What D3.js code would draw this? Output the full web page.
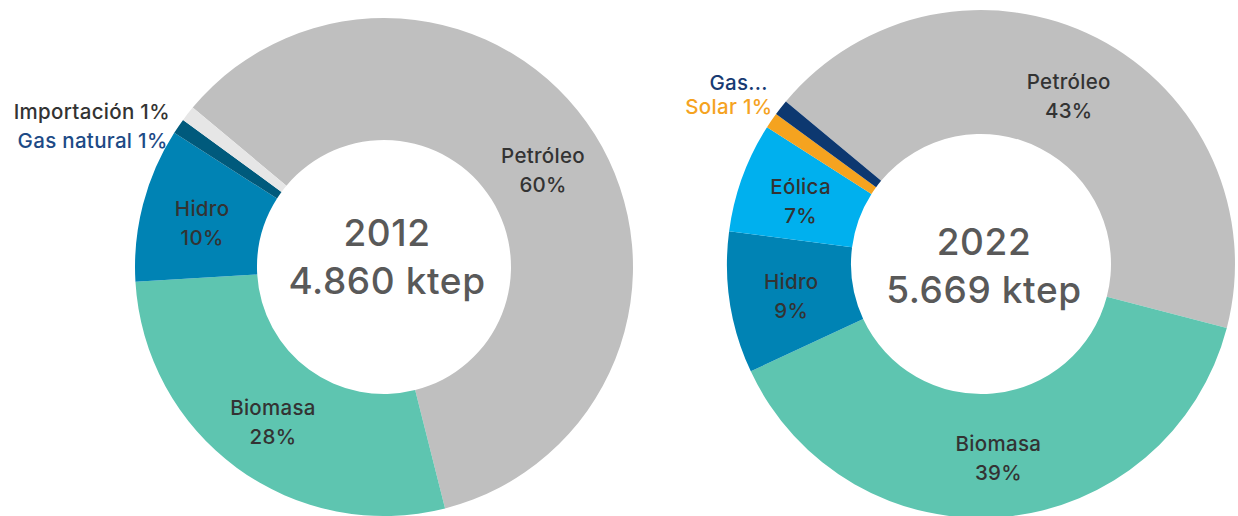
<!DOCTYPE html>
<html>
<head>
<meta charset="utf-8">
<script src="https://cdn.jsdelivr.net/npm/d3@7"></script>
<style>
  html, body { margin: 0; padding: 0; background: #ffffff; }
  svg { display: block; }
  text { font-family: "Inter", "Liberation Sans", Arial, sans-serif; font-weight: 500; }
</style>
</head>
<body>
<svg id="chart" width="1238" height="516"></svg>
<script>
// Energy mix, share of total consumption (%)
const categories2012 = ["Petróleo", "Biomasa", "Hidro", "Gas natural", "Importación"];
const values2012     = [60, 28, 10, 1, 1];
const colors2012     = ["#bfbfbf", "#5ec5b0", "#0083b4", "#005a7c", "#e6e6e6"];

const categories2022 = ["Petróleo", "Biomasa", "Hidro", "Eólica", "Solar", "Gas natural"];
const values2022     = [43, 39, 9, 7, 1, 1];
const colors2022     = ["#bfbfbf", "#5ec5b0", "#0083b4", "#00b0ee", "#f5a31f", "#0d3870"];

const years  = ["2012", "2022"];
const totals = ["4.860 ktep", "5.669 ktep"];

const svg = d3.select("#chart");
const startAngle = -50.2 * Math.PI / 180;

function donut(cfg) {
  const g = svg.append("g").attr("transform", `translate(${cfg.cx},${cfg.cy})`);
  const data = cfg.categories.map((c, i) => ({ name: c, value: cfg.values[i], color: cfg.colors[i] }));
  const pie = d3.pie().value(d => d.value).sort(null)
    .startAngle(startAngle).endAngle(startAngle + 2 * Math.PI);
  const arcs = pie(data);
  const arc = d3.arc().innerRadius(cfg.r0).outerRadius(cfg.r1);

  g.selectAll("path.slice").data(arcs).join("path")
    .attr("class", "slice")
    .attr("d", arc)
    .attr("fill", d => d.data.color);

  // labels inside the ring
  arcs.filter(d => d.data.value >= 5).forEach(d => {
    const [x, y] = arc.centroid(d);
    const t = g.append("text")
      .attr("text-anchor", "middle")
      .attr("font-size", 20.5)
      .attr("letter-spacing", 0.3)
      .attr("fill", "#333333");
    t.append("tspan").attr("x", x).attr("y", y - 4).text(d.data.name);
    t.append("tspan").attr("x", x).attr("y", y + 25).text(d.data.value + "%");
  });

  // small slices get labels outside the ring
  const outer = d3.arc().innerRadius(cfg.r1).outerRadius(cfg.r1);
  cfg.outside.forEach(o => {
    const d = arcs.find(a => a.data.name === o.name);
    const [x, y] = outer.centroid(d);
    g.append("text")
      .attr("x", x + o.dx).attr("y", y + o.dy)
      .attr("text-anchor", "end")
      .attr("font-size", 20.5)
      .attr("letter-spacing", 0.3)
      .attr("fill", o.color)
      .text(o.text);
  });

  // centre caption
  g.append("text").attr("x", 3).attr("y", cfg.captionY - 24)
    .attr("text-anchor", "middle").attr("font-size", 37)
    .attr("letter-spacing", 0.6)
    .attr("fill", "#595959").text(cfg.year);
  g.append("text").attr("x", 3).attr("y", cfg.captionY + 24)
    .attr("text-anchor", "middle").attr("font-size", 37)
    .attr("letter-spacing", 0.6)
    .attr("fill", "#595959").text(cfg.total);
}

donut({
  cx: 384, cy: 267, r0: 127, r1: 249, captionY: 3,
  categories: categories2012, values: values2012, colors: colors2012,
  year: years[0], total: totals[0],
  outside: [
    { name: "Importación", text: "Importación 1%", color: "#333333", dx: -18, dy: 5 },
    { name: "Gas natural", text: "Gas natural 1%", color: "#1d4a86", dx: -11, dy: 22 }
  ]
});

donut({
  cx: 981, cy: 264, r0: 130, r1: 254, captionY: 15,
  categories: categories2022, values: values2022, colors: colors2022,
  year: years[1], total: totals[1],
  outside: [
    { name: "Gas natural", text: "Gas...", color: "#173a72", dx: -13, dy: -18 },
    { name: "Solar", text: "Solar 1%", color: "#f5a31f", dx: 1, dy: -7 }
  ]
});
</script>
</body>
</html>
